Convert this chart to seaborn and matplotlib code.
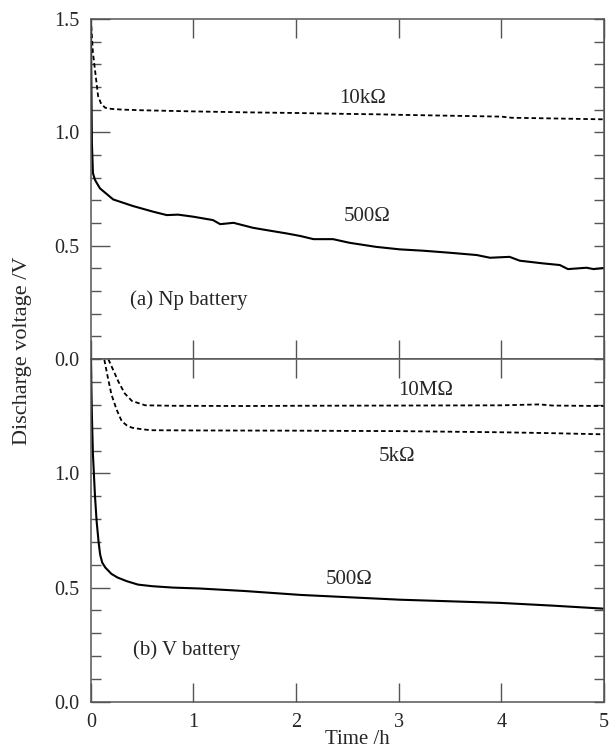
import pandas as pd
import seaborn as sns
import matplotlib.pyplot as plt
from matplotlib.ticker import MultipleLocator, FixedLocator

# Data (time in h, voltage in V)
# (a) Np battery
t_np_10k = [0, 0.01, 0.02, 0.04, 0.07, 0.10, 0.14, 0.20, 0.30, 0.50, 0.80, 1.0, 1.5,
            2.0, 2.5, 2.82, 3.0, 3.5, 4.0, 4.1, 4.5, 5.0]
v_np_10k = [1.50, 1.42, 1.35, 1.275, 1.16, 1.125, 1.108, 1.103, 1.100, 1.097, 1.094, 1.092, 1.088,
            1.085, 1.081, 1.079, 1.077, 1.073, 1.069, 1.064, 1.061, 1.057]

t_np_500 = [0, 0.005, 0.01, 0.02, 0.04, 0.088, 0.217, 0.41, 0.607, 0.74, 0.85, 0.997, 1.19,
            1.26, 1.39, 1.58, 1.71, 1.91, 2.04, 2.17, 2.36, 2.52, 2.78, 3.01, 3.24, 3.50,
            3.76, 3.89, 4.08, 4.18, 4.41, 4.57, 4.65, 4.83, 4.90, 5.0]
v_np_500 = [1.50, 1.20, 0.95, 0.82, 0.79, 0.753, 0.704, 0.675, 0.650, 0.635, 0.637, 0.628, 0.613,
            0.595, 0.601, 0.579, 0.569, 0.554, 0.543, 0.529, 0.529, 0.513, 0.495, 0.484, 0.478, 0.469,
            0.459, 0.447, 0.451, 0.434, 0.422, 0.415, 0.397, 0.403, 0.397, 0.402]

# (b) V battery
t_v_10M = [0.12, 0.17, 0.22, 0.27, 0.33, 0.40, 0.53, 0.80, 1.5, 2.0, 3.0, 4.0, 4.37, 4.5, 5.0]
v_v_10M = [1.56, 1.50, 1.45, 1.40, 1.35, 1.317, 1.298, 1.296, 1.295, 1.296, 1.297, 1.298, 1.302, 1.297, 1.295]

t_v_5k = [0.09, 0.13, 0.165, 0.20, 0.25, 0.30, 0.35, 0.40, 0.50, 0.59, 1.0, 2.0, 3.0, 4.0, 4.5, 5.0]
v_v_5k = [1.56, 1.50, 1.42, 1.346, 1.28, 1.229, 1.21, 1.20, 1.193, 1.189, 1.188, 1.187, 1.185, 1.180, 1.176, 1.171]

t_v_500 = [0, 0.01, 0.02, 0.04, 0.056, 0.075, 0.09, 0.11, 0.14, 0.20, 0.26, 0.35, 0.46, 0.60,
           0.80, 1.06, 1.5, 2.04, 2.5, 3.01, 3.5, 3.99, 4.5, 4.99]
v_v_500 = [1.50, 1.25, 1.083, 0.90, 0.79, 0.70, 0.645, 0.61, 0.588, 0.56, 0.544, 0.528, 0.513, 0.506,
           0.500, 0.496, 0.485, 0.468, 0.458, 0.447, 0.440, 0.433, 0.421, 0.408]

sns.set_style("ticks")
plt.rcParams['font.family'] = ['Liberation Serif', 'DejaVu Serif']

fig = plt.figure(figsize=(6.1, 7.53), dpi=100)
ax_a = fig.add_axes([0.149, 0.523, 0.841, 0.452])
ax_b = fig.add_axes([0.149, 0.068, 0.841, 0.455])

dash = (0, (2.5, 1.6))
spine_col = '#555555'


def style_axis(ax, labels):
    ax.set_xlim(0, 5)
    ax.set_ylim(0, 1.5)
    ax.xaxis.set_major_locator(MultipleLocator(1))
    ax.yaxis.set_major_locator(FixedLocator(labels))
    ax.yaxis.set_minor_locator(MultipleLocator(0.1))
    ax.yaxis.set_major_formatter(lambda v, p: f'{v:.1f}')
    ax.tick_params(axis='x', which='major', direction='in', top=True, bottom=True,
                   length=14, width=1, color=spine_col, labelsize=14.5, pad=8)
    ax.tick_params(axis='y', which='major', direction='in', left=True, right=False,
                   length=14, width=1, color=spine_col, labelsize=14.5, pad=8)
    ax.tick_params(axis='y', which='minor', direction='in', left=True, right=False,
                   length=7, width=1, color=spine_col)
    for s in ax.spines.values():
        s.set_visible(True)
        s.set_color(spine_col)
        s.set_linewidth(1.1)
    # right side: short ticks every 0.1, no labels
    sec = ax.secondary_yaxis('right')
    sec.yaxis.set_major_locator(MultipleLocator(0.1))
    sec.tick_params(direction='in', length=7, width=1, color=spine_col, labelright=False)
    sec.spines['right'].set_color(spine_col)
    ax.set_xlabel('')
    ax.set_ylabel('')


sns.lineplot(x=t_np_10k, y=v_np_10k, ax=ax_a, color='black', lw=1.3, linestyle=dash, sort=False)
sns.lineplot(x=t_np_500, y=v_np_500, ax=ax_a, color='black', lw=1.5, sort=False)
style_axis(ax_a, [0.0, 0.5, 1.0, 1.5])
ax_a.tick_params(axis='x', labelbottom=False)

sns.lineplot(x=t_v_10M, y=v_v_10M, ax=ax_b, color='black', lw=1.3, linestyle=dash, sort=False)
sns.lineplot(x=t_v_5k, y=v_v_5k, ax=ax_b, color='black', lw=1.3, linestyle=dash, sort=False)
sns.lineplot(x=t_v_500, y=v_v_500, ax=ax_b, color='black', lw=1.5, sort=False)
style_axis(ax_b, [0.0, 0.5, 1.0])
ax_b.xaxis.set_major_formatter(lambda v, p: f'{v:.0f}')

fs = 15
ax_a.text(2.65, 1.149, '10kΩ', fontsize=fs, ha='center', va='center')
ax_a.text(2.69, 0.628, '500Ω', fontsize=fs, ha='center', va='center')
ax_a.text(0.38, 0.26, '(a) Np battery', fontsize=fs, ha='left', va='center')

ax_b.text(3.26, 1.361, '10MΩ', fontsize=fs, ha='center', va='center')
ax_b.text(2.98, 1.072, '5kΩ', fontsize=fs, ha='center', va='center')
ax_b.text(2.52, 0.535, '500Ω', fontsize=fs, ha='center', va='center')
ax_b.text(0.41, 0.224, '(b) V battery', fontsize=fs, ha='left', va='center')

fig.text(23 / 610, 1 - 351 / 753, 'Discharge voltage /V', fontsize=16,
         rotation=90, ha='center', va='center')
fig.text(357 / 610, 1 - 740 / 753, 'Time /h', fontsize=15, ha='center', va='center')

fig.savefig('out.png', dpi=100)
